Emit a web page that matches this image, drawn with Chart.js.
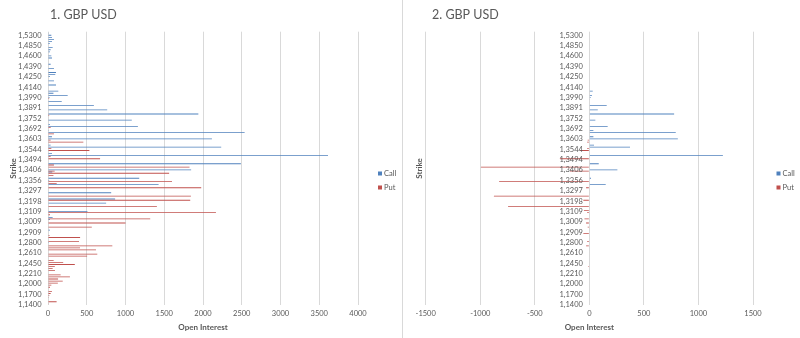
<!DOCTYPE html>
<html>
<head>
<meta charset="utf-8">
<script src="https://cdn.jsdelivr.net/npm/chart.js@4.4.1/dist/chart.umd.min.js"></script>
<style>
  html, body { margin: 0; padding: 0; background: #fff; }
  #wrap { position: relative; width: 800px; height: 338px; }
  canvas { position: absolute; top: 0; }
  #c1 { left: 0; }
  #c2 { left: 400px; }
  #sep { position: absolute; left: 402px; top: 0; width: 1px; height: 338px; background: #d9d9d9; }
</style>
</head>
<body>
<div id="wrap">
  <div id="sep"></div>
  <canvas id="c1" width="400" height="338"></canvas>
  <canvas id="c2" width="400" height="338"></canvas>
</div>
<script>
// strikes shown on the axis (every 5th category, top to bottom)
const strikeLabels = ['1,5300','1,4850','1,4600','1,4390','1,4250','1,4140','1,3990','1,3891','1,3752',
  '1,3692','1,3603','1,3544','1,3494','1,3406','1,3356','1,3297','1,3198','1,3109','1,3009','1,2909',
  '1,2800','1,2610','1,2450','1,2210','1,2000','1,1700','1,1400'];

// 132 strike categories, top to bottom
const calls1 = [
  10,43,52,77,52,21,0,60,34,26, 0,43,52,0,0,34,0,77,0,103,
  94,26,0,77,0,103,0,0,133,70, 254,20,0,177,0,592,0,764,0,1940,
  0,0,1081,0,26,1160,0,10,2537,0, 51,2115,0,0,34,2235,0,0,52,3613,
  0,0,0,2489,0,0,1847,55,0,0, 1177,15,0,1427,0,0,0,815,0,0,
  866,0,750,0,0,0,509,0,0,60, 26,0,0,0,0,26,0,0,0,0,
  0,10,0,0,0,0,0,0,0,0, 0,0,0,0,0,0,0,0,0,0,
  0,0,0,0,0,0,0,0,0,0, 0,0
];
const puts1 = [
  0,0,0,0,0,0,0,0,0,0, 0,0,0,0,0,0,0,0,0,0,
  0,0,0,0,0,0,0,0,0,0, 0,0,15,0,0,0,0,0,0,0,
  15,0,0,0,0,0,35,0,0,77, 0,0,34,456,0,0,43,534,0,0,
  34,672,0,0,77,1826,0,86,1563,70, 0,0,1600,112,0,1977,0,0,0,1844,
  0,1835,0,0,1405,0,0,2167,26,0, 1319,0,1000,0,565,0,0,0,20,414,
  0,400,0,830,413,619,0,636,505,0, 73,196,346,88,60,90,0,163,283,130,
  190,127,43,26,0,51,34,17,10,0, 111,9
];
const calls2 = [
  0,0,0,0,0,0,0,0,0,0, 0,0,0,0,0,0,0,0,0,0,
  0,0,0,0,0,0,0,0,31,0, 24,12,5,0,0,159,0,77,0,777,
  0,0,55,0,5,168,0,37,792,0, 37,811,0,0,43,373,0,0,0,1224,
  0,0,0,86,0,0,257,0,0,0, 15,0,0,150,0,0,0,0,0,0,
  0,0,0,0,0,0,0,0,0,0, 0,0,0,0,0,0,0,0,0,0,
  0,0,0,0,0,0,0,0,0,0, 0,0,0,0,0,0,0,0,0,0,
  0,0,0,0,0,0,0,0,0,0, 0,0
];
const puts2 = [
  0,0,0,0,0,0,0,0,0,0, 0,0,0,0,0,0,0,0,0,0,
  0,0,0,0,0,0,0,0,0,0, 0,0,0,0,0,0,0,0,0,0,
  0,0,0,0,0,0,0,0,0,0, 0,0,-15,-20,0,0,-20,-85,0,0,
  0,-270,0,0,0,-994,0,-177,0,0, 0,0,-827,0,0,-30,0,0,0,-875,
  0,-55,0,0,-745,0,-50,-20,0,0, -45,0,-30,0,-15,0,0,-55,0,0,
  0,-20,0,-30,0,0,0,0,0,0, 0,0,0,-10,0,0,0,0,0,0,
  0,0,0,0,0,0,0,0,0,0, 0,0
];

const categories = calls1.map((_, i) => (i - 1) % 5 === 0 ? strikeLabels[(i - 1) / 5] : '');

const CALL = '#4f81bd';
const PUT = '#c0504d';
const GREY = '#595959';
const GRID = '#d9d9d9';
const FONT = 'Lato, "Open Sans", sans-serif';

// title, legend and strike labels (left of the plot, or next to the zero line)
const decor = {
  id: 'decor',
  afterDraw(chart, args, o) {
    const ctx = chart.ctx;
    ctx.save();
    ctx.textBaseline = 'middle';
    ctx.textAlign = 'left';
    ctx.fillStyle = GREY;
    ctx.font = '12.5px ' + FONT;
    ctx.fillText(o.title, o.titleX, 15);

    ctx.font = '7.5px ' + FONT;
    [['Call', CALL, 173.5], ['Put', PUT, 187.5]].forEach(([t, c, y]) => {
      ctx.fillStyle = c;
      ctx.fillRect(o.legendX, y - 2, 4, 4);
      ctx.fillStyle = GREY;
      ctx.fillText(t, o.legendX + 6, y);
    });

    const xs = chart.scales.x, ys = chart.scales.y;
    const lx = (o.zeroLabels ? xs.getPixelForValue(0) : chart.chartArea.left) - 6.5;
    ctx.textAlign = 'right';
    categories.forEach((lab, i) => {
      if (lab) ctx.fillText(lab, lx, ys.getPixelForValue(i) + 0.5);
    });
    ctx.restore();
  }
};

function makeChart(canvas, cfg) {
  return new Chart(canvas, {
    type: 'bar',
    data: {
      labels: categories,
      datasets: [
        { label: 'Put', data: cfg.puts, backgroundColor: PUT, borderWidth: 0,
          categoryPercentage: 0.8, barPercentage: 1 },
        { label: 'Call', data: cfg.calls, backgroundColor: CALL, borderWidth: 0,
          categoryPercentage: 0.8, barPercentage: 1 }
      ]
    },
    options: {
      indexAxis: 'y',
      responsive: false,
      maintainAspectRatio: false,
      animation: false,
      layout: { padding: { top: 31.7, right: cfg.padRight, bottom: 0, left: 0 } },
      plugins: {
        legend: { display: false },
        tooltip: { enabled: false },
        decor: { title: cfg.title, titleX: cfg.titleX, legendX: cfg.legendX, zeroLabels: cfg.zeroLabels }
      },
      scales: {
        x: {
          min: cfg.min,
          max: cfg.max,
          grid: { color: GRID, drawTicks: false },
          border: { display: false },
          ticks: {
            stepSize: 500,
            padding: 4,
            color: GREY,
            font: { family: FONT, size: 7.5 },
            callback: v => String(v)
          },
          title: {
            display: true,
            text: 'Open Interest',
            color: GREY,
            font: { family: FONT, size: 8, weight: 'bold' },
            padding: { top: 0, bottom: 6 }
          },
          afterFit: s => { s.height = 32.7; }
        },
        y: {
          grid: { display: false },
          border: { display: false },
          ticks: { display: false },
          title: {
            display: true,
            text: 'Strike',
            color: GREY,
            font: { family: FONT, size: 8, weight: 'bold' },
            padding: { top: cfg.titlePad, bottom: 0 }
          },
          afterFit: s => { s.width = cfg.left; }
        }
      }
    },
    plugins: [decor]
  });
}

makeChart(document.getElementById('c1'), {
  calls: calls1, puts: puts1, min: 0, max: 4000,
  left: 48, padRight: 42, titlePad: 8.7,
  title: '1. GBP USD', titleX: 50, legendX: 378, zeroLabels: false
});

makeChart(document.getElementById('c2'), {
  calls: calls2, puts: puts2, min: -1500, max: 1500,
  left: 25.7, padRight: 47, titlePad: 15,
  title: '2. GBP USD', titleX: 32, legendX: 376.5, zeroLabels: true
});
</script>
</body>
</html>
